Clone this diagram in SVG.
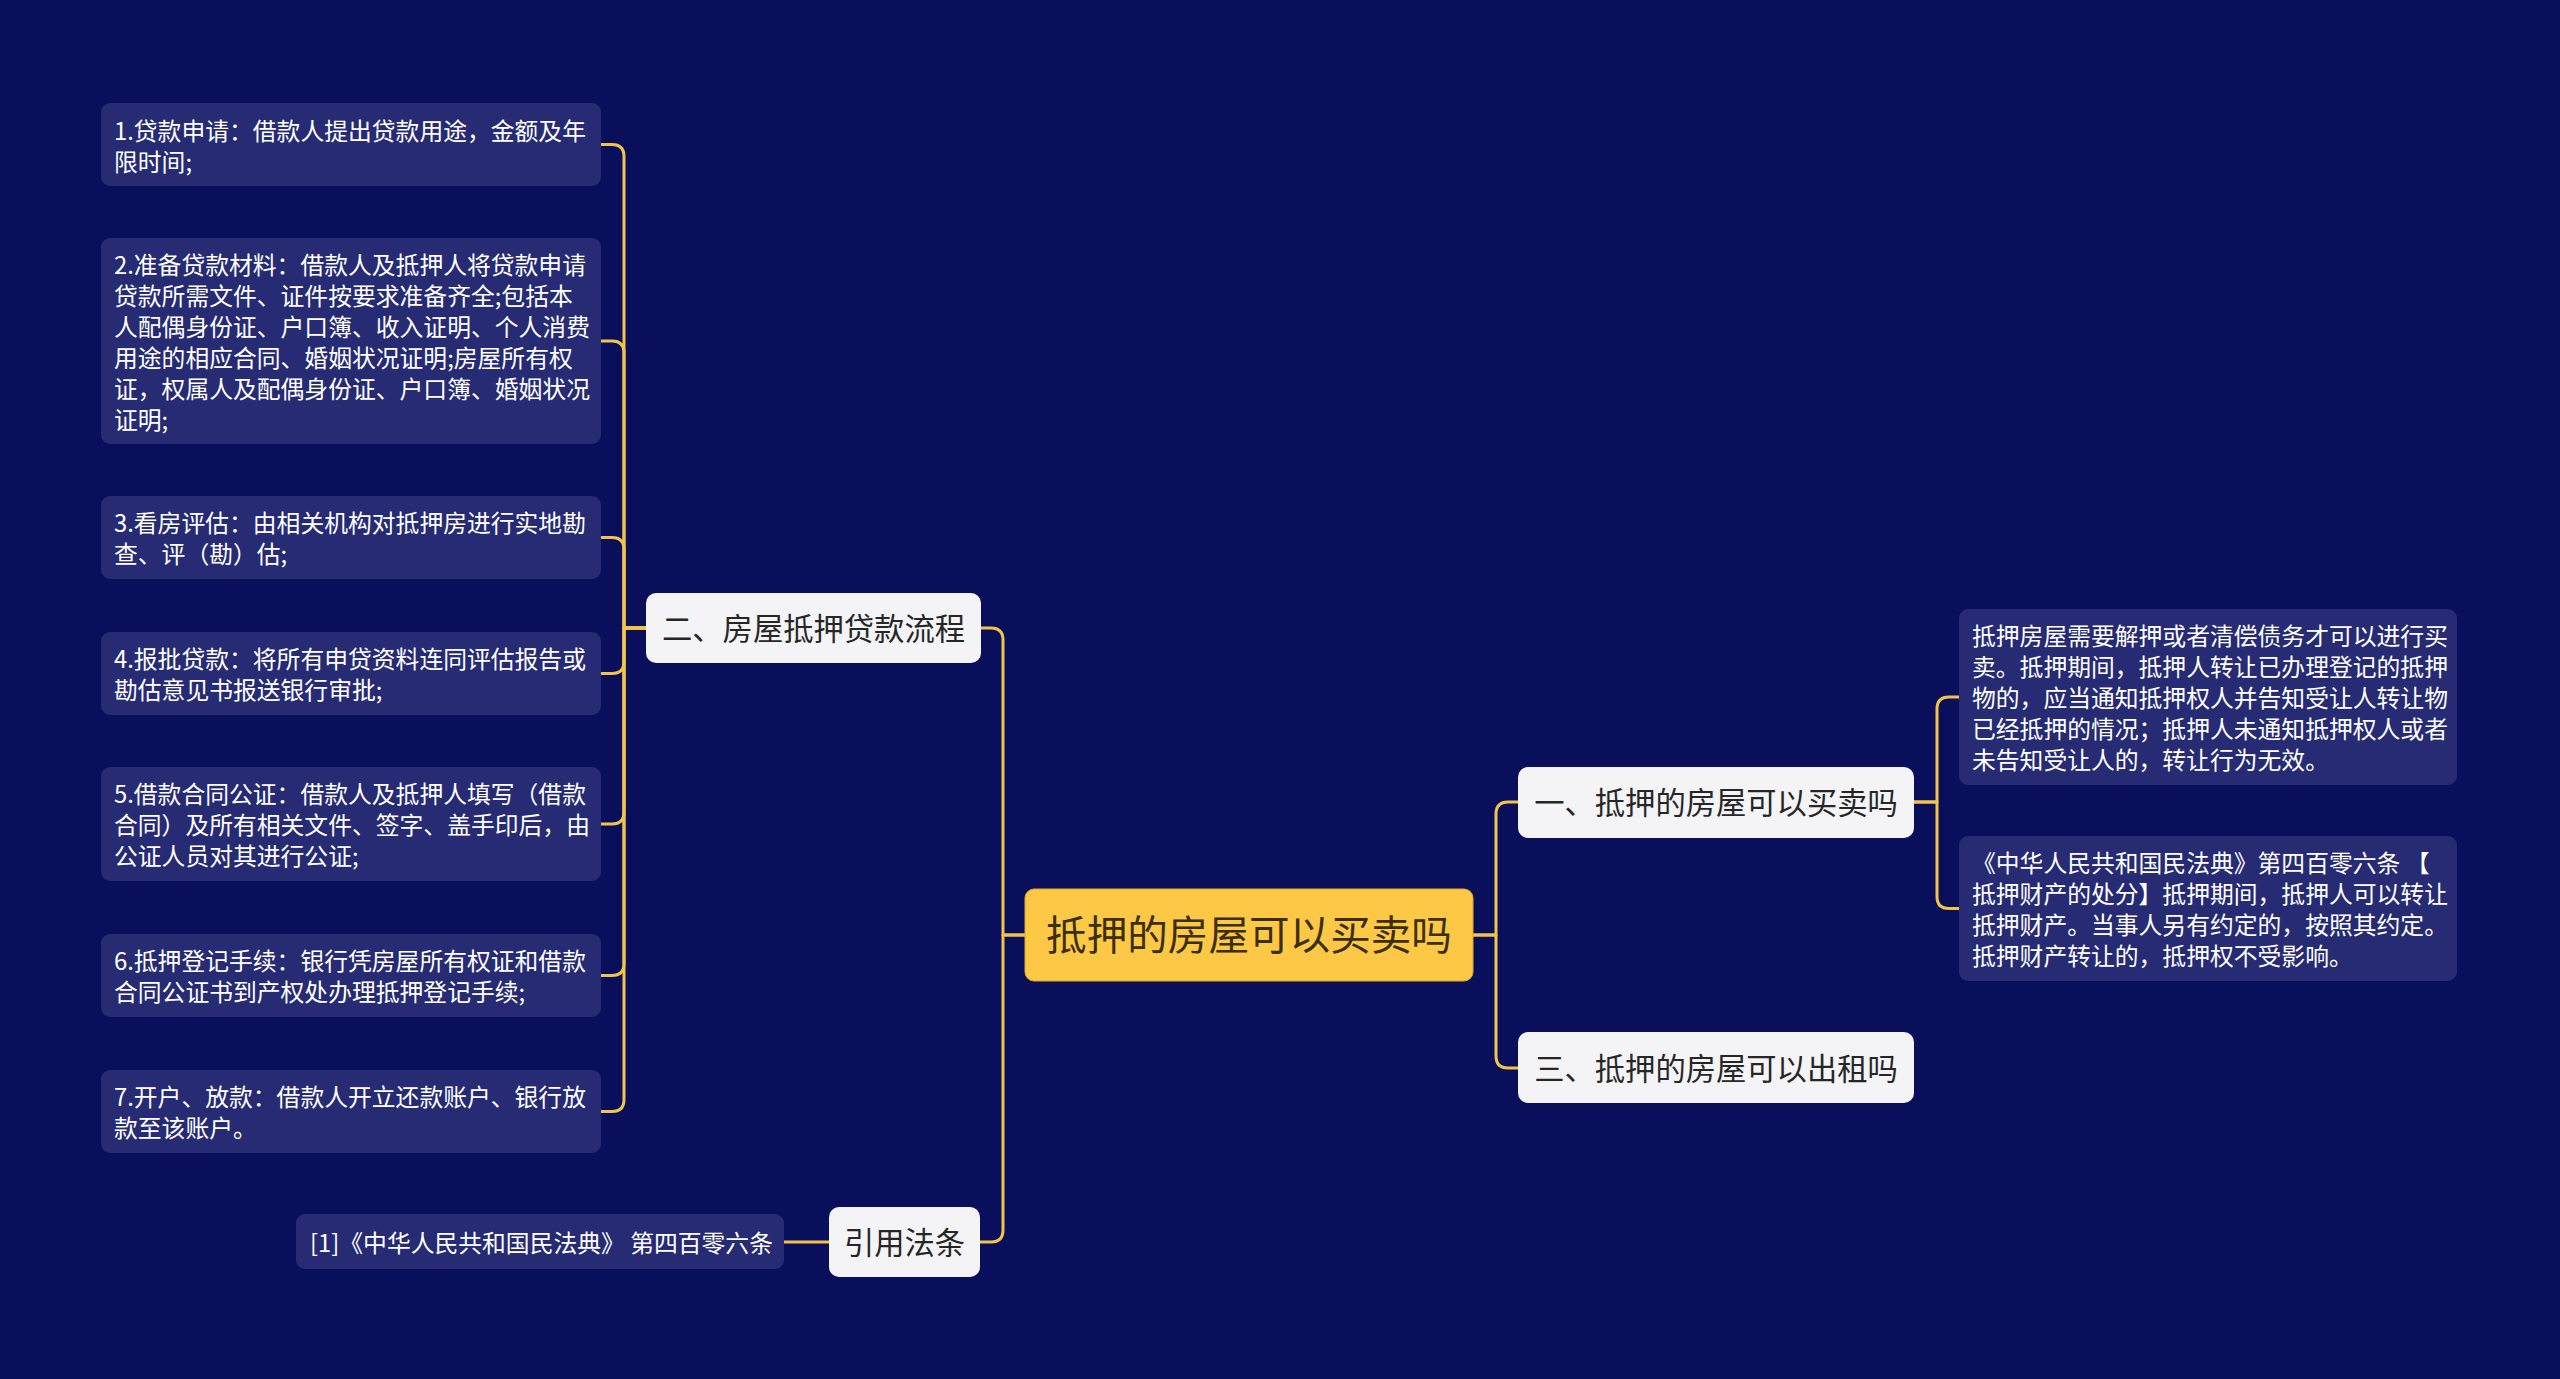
<svg xmlns="http://www.w3.org/2000/svg" width="2560" height="1379" viewBox="0 0 2560 1379">
<style>
.bg{fill:#0a0f5b}
.leaf{fill:#262b73}
.branch{fill:#f4f4f6}
.root{fill:#fcc845;stroke:#e0aa2a;stroke-width:1}
.lt{font-family:"Noto Sans CJK SC","Noto Sans",sans-serif;font-size:23.8px;fill:#ffffff}
.bt{font-family:"Noto Sans CJK SC","Noto Sans",sans-serif;font-size:30.3px;fill:#262626;text-anchor:middle}
.rt{font-family:"Noto Sans CJK SC","Noto Sans",sans-serif;font-size:40.6px;fill:#3a2f08;text-anchor:middle}
.conn path{fill:none;stroke:#f2c44a;stroke-width:3;stroke-linejoin:round}
</style>
<rect class="bg" x="0" y="0" width="2560" height="1379"/>
<g class="conn" id="connectors">
<path d="M646 628 H624 V156.5 Q624 144.5 612 144.5 H601"/>
<path d="M646 628 H624 V353 Q624 341 612 341 H601"/>
<path d="M646 628 H624 V549.5 Q624 537.5 612 537.5 H601"/>
<path d="M646 628 H624 V661.5 Q624 673.5 612 673.5 H601"/>
<path d="M646 628 H624 V812 Q624 824 612 824 H601"/>
<path d="M646 628 H624 V963.5 Q624 975.5 612 975.5 H601"/>
<path d="M646 628 H624 V1099.5 Q624 1111.5 612 1111.5 H601"/>
<path d="M1025 935 H1003 V640 Q1003 628 991 628 H981"/>
<path d="M1025 935 H1003 V1230 Q1003 1242 991 1242 H980"/>
<path d="M1473 935 H1496 V814 Q1496 802 1508 802 H1518"/>
<path d="M1473 935 H1496 V1056 Q1496 1068 1508 1068 H1518"/>
<path d="M1914 802 H1937 V709 Q1937 697 1949 697 H1959"/>
<path d="M1914 802 H1937 V896.5 Q1937 908.5 1949 908.5 H1959"/>
<path d="M784 1242 H829"/>
</g>
<g id="root">
<rect class="root" x="1025" y="889" width="448" height="92" rx="9"/>
<text class="rt" x="1249" y="950">抵押的房屋可以买卖吗</text>
</g>
<g id="b2">
<rect class="branch" x="646" y="593" width="335" height="70" rx="10"/>
<text class="bt" x="813.5" y="639.5">二、房屋抵押贷款流程</text>
</g>
<g id="b1">
<rect class="branch" x="1518" y="767" width="396" height="71" rx="10"/>
<text class="bt" x="1716" y="813.5">一、抵押的房屋可以买卖吗</text>
</g>
<g id="b3">
<rect class="branch" x="1518" y="1032" width="396" height="71" rx="10"/>
<text class="bt" x="1716" y="1079.5">三、抵押的房屋可以出租吗</text>
</g>
<g id="b4">
<rect class="branch" x="829" y="1207" width="151" height="70" rx="10"/>
<text class="bt" x="904.5" y="1253.5">引用法条</text>
</g>
<g id="leaf1">
<rect class="leaf" x="101" y="103" width="500" height="83" rx="9"/>
<text class="lt" x="114" y="139.5">1.贷款申请：借款人提出贷款用途，金额及年</text>
<text class="lt" x="114" y="170.5">限时间;</text>
</g>
<g id="leaf2">
<rect class="leaf" x="101" y="238" width="500" height="206" rx="9"/>
<text class="lt" x="114" y="273.5">2.准备贷款材料：借款人及抵押人将贷款申请</text>
<text class="lt" x="114" y="304.5">贷款所需文件、证件按要求准备齐全;包括本</text>
<text class="lt" x="114" y="335.5">人配偶身份证、户口簿、收入证明、个人消费</text>
<text class="lt" x="114" y="366.5">用途的相应合同、婚姻状况证明;房屋所有权</text>
<text class="lt" x="114" y="397.5">证，权属人及配偶身份证、户口簿、婚姻状况</text>
<text class="lt" x="114" y="428.5">证明;</text>
</g>
<g id="leaf3">
<rect class="leaf" x="101" y="496" width="500" height="83" rx="9"/>
<text class="lt" x="114" y="532">3.看房评估：由相关机构对抵押房进行实地勘</text>
<text class="lt" x="114" y="563">查、评（勘）估;</text>
</g>
<g id="leaf4">
<rect class="leaf" x="101" y="632" width="500" height="83" rx="9"/>
<text class="lt" x="114" y="668">4.报批贷款：将所有申贷资料连同评估报告或</text>
<text class="lt" x="114" y="699">勘估意见书报送银行审批;</text>
</g>
<g id="leaf5">
<rect class="leaf" x="101" y="767" width="500" height="114" rx="9"/>
<text class="lt" x="114" y="803">5.借款合同公证：借款人及抵押人填写（借款</text>
<text class="lt" x="114" y="834">合同）及所有相关文件、签字、盖手印后，由</text>
<text class="lt" x="114" y="865">公证人员对其进行公证;</text>
</g>
<g id="leaf6">
<rect class="leaf" x="101" y="934" width="500" height="83" rx="9"/>
<text class="lt" x="114" y="970">6.抵押登记手续：银行凭房屋所有权证和借款</text>
<text class="lt" x="114" y="1001">合同公证书到产权处办理抵押登记手续;</text>
</g>
<g id="leaf7">
<rect class="leaf" x="101" y="1070" width="500" height="83" rx="9"/>
<text class="lt" x="114" y="1106">7.开户、放款：借款人开立还款账户、银行放</text>
<text class="lt" x="114" y="1137">款至该账户。</text>
</g>
<g id="cite">
<rect class="leaf" x="296" y="1214" width="488" height="55" rx="9"/>
<text class="lt" x="310" y="1252">[1]《中华人民共和国民法典》 第四百零六条</text>
</g>
<g id="leafA">
<rect class="leaf" x="1959" y="609" width="498" height="176" rx="9"/>
<text class="lt" x="1972" y="645">抵押房屋需要解押或者清偿债务才可以进行买</text>
<text class="lt" x="1972" y="676">卖。抵押期间，抵押人转让已办理登记的抵押</text>
<text class="lt" x="1972" y="707">物的，应当通知抵押权人并告知受让人转让物</text>
<text class="lt" x="1972" y="738">已经抵押的情况；抵押人未通知抵押权人或者</text>
<text class="lt" x="1972" y="769">未告知受让人的，转让行为无效。</text>
</g>
<g id="leafB">
<rect class="leaf" x="1959" y="836" width="498" height="145" rx="9"/>
<text class="lt" x="1972" y="872">《中华人民共和国民法典》第四百零六条 【</text>
<text class="lt" x="1972" y="903">抵押财产的处分】抵押期间，抵押人可以转让</text>
<text class="lt" x="1972" y="934">抵押财产。当事人另有约定的，按照其约定。</text>
<text class="lt" x="1972" y="965">抵押财产转让的，抵押权不受影响。</text>
</g>
</svg>
